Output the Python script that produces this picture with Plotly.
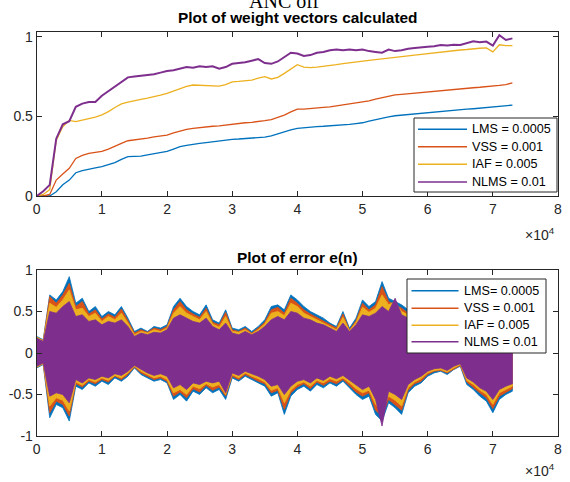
import plotly.graph_objects as go

W, H = 570, 482

# ---------------- data ----------------
samples = list(range(0, 74000, 1000))          # sample index n (0 .. 73000)
names_w = ["LMS = 0.0005", "VSS = 0.001", "IAF = 0.005", "NLMS = 0.01"]
names_e = ["LMS= 0.0005", "VSS = 0.001", "IAF = 0.005", "NLMS = 0.01"]
colors = ["#0072BD", "#D95319", "#EDB120", "#7E2F8E"]
x_tick_vals = [0, 10000, 20000, 30000, 40000, 50000, 60000, 70000, 80000]
x_tick_text = ["0", "1", "2", "3", "4", "5", "6", "7", "8"]

# weight vectors (top)
w_lms = [0.00, 0.00, 0.00, 0.027, 0.07, 0.10, 0.146, 0.16, 0.17, 0.177,
         0.184, 0.197, 0.21, 0.23, 0.247, 0.249, 0.251, 0.258, 0.264, 0.272,
         0.28, 0.295, 0.31, 0.318, 0.326, 0.33, 0.335, 0.341, 0.347, 0.352,
         0.356, 0.358, 0.361, 0.363, 0.366, 0.37, 0.377, 0.39, 0.404, 0.415,
         0.425, 0.43, 0.433, 0.436, 0.438, 0.44, 0.443, 0.447, 0.45, 0.455,
         0.46, 0.47, 0.48, 0.49, 0.497, 0.504, 0.508, 0.512, 0.516, 0.52,
         0.525, 0.528, 0.531, 0.535, 0.538, 0.541, 0.545, 0.548, 0.552, 0.556,
         0.56, 0.563, 0.567, 0.571]
w_vss = [0.00, 0.00, 0.01, 0.10, 0.138, 0.174, 0.236, 0.255, 0.268, 0.274,
         0.28, 0.295, 0.31, 0.33, 0.347, 0.352, 0.355, 0.363, 0.372, 0.378,
         0.383, 0.397, 0.41, 0.418, 0.425, 0.43, 0.435, 0.438, 0.44, 0.446,
         0.452, 0.456, 0.46, 0.463, 0.467, 0.473, 0.48, 0.493, 0.508, 0.528,
         0.546, 0.546, 0.548, 0.552, 0.556, 0.56, 0.566, 0.572, 0.577, 0.582,
         0.587, 0.597, 0.608, 0.617, 0.626, 0.635, 0.638, 0.642, 0.645, 0.65,
         0.655, 0.66, 0.663, 0.666, 0.669, 0.672, 0.676, 0.68, 0.683, 0.686,
         0.69, 0.695, 0.70, 0.71]
w_iaf = [0.00, 0.01, 0.04, 0.35, 0.435, 0.475, 0.467, 0.475, 0.483, 0.495,
         0.51, 0.53, 0.556, 0.578, 0.59, 0.60, 0.607, 0.615, 0.623, 0.633,
         0.644, 0.66, 0.676, 0.688, 0.697, 0.695, 0.69, 0.692, 0.69, 0.70,
         0.717, 0.72, 0.725, 0.728, 0.74, 0.75, 0.735, 0.745, 0.77, 0.80,
         0.825, 0.81, 0.806, 0.81, 0.815, 0.817, 0.825, 0.832, 0.838, 0.843,
         0.848, 0.852, 0.856, 0.86, 0.865, 0.87, 0.875, 0.88, 0.885, 0.89,
         0.895, 0.90, 0.905, 0.91, 0.913, 0.917, 0.92, 0.925, 0.928, 0.93,
         0.905, 0.95, 0.945, 0.945]
w_nlms = [0.00, 0.03, 0.07, 0.36, 0.45, 0.47, 0.56, 0.58, 0.59, 0.59,
          0.63, 0.66, 0.69, 0.72, 0.745, 0.75, 0.755, 0.76, 0.765, 0.775,
          0.785, 0.79, 0.80, 0.81, 0.805, 0.815, 0.81, 0.815, 0.80, 0.81,
          0.83, 0.835, 0.84, 0.85, 0.86, 0.835, 0.83, 0.845, 0.875, 0.90,
          0.895, 0.88, 0.885, 0.90, 0.905, 0.915, 0.92, 0.915, 0.92, 0.915,
          0.92, 0.91, 0.905, 0.90, 0.92, 0.91, 0.915, 0.925, 0.93, 0.935,
          0.938, 0.94, 0.948, 0.945, 0.95, 0.948, 0.96, 0.972, 0.965, 0.97,
          0.945, 1.01, 0.98, 0.99]

# error e(n) (bottom): upper / lower envelopes read per 1000 samples
e_lms_hi = [0.20, 0.16, 0.70, 0.64, 0.74, 0.92, 0.60, 0.66, 0.50, 0.56,
            0.44, 0.50, 0.46, 0.56, 0.42, 0.26, 0.30, 0.26, 0.32, 0.30,
            0.34, 0.56, 0.66, 0.56, 0.50, 0.46, 0.58, 0.40, 0.36, 0.52,
            0.30, 0.28, 0.32, 0.26, 0.32, 0.40, 0.56, 0.58, 0.52, 0.70,
            0.64, 0.56, 0.50, 0.46, 0.42, 0.36, 0.32, 0.50, 0.30, 0.42,
            0.64, 0.56, 0.62, 0.86, 0.66, 0.62, 0.58, 0.52, 0.48, 0.44,
            0.40, 0.36, 0.34, 0.32, 0.30, 0.34, 0.44, 0.50, 0.56, 0.62,
            0.70, 0.58, 0.52, 0.50]
e_lms_lo = [-0.18, -0.14, -0.78, -0.62, -0.66, -0.82, -0.40, -0.44, -0.36, -0.40,
            -0.34, -0.38, -0.30, -0.34, -0.28, -0.18, -0.26, -0.30, -0.34, -0.32,
            -0.36, -0.56, -0.50, -0.58, -0.46, -0.50, -0.42, -0.48, -0.44, -0.56,
            -0.30, -0.34, -0.28, -0.32, -0.36, -0.40, -0.52, -0.48, -0.74, -0.52,
            -0.44, -0.40, -0.46, -0.38, -0.42, -0.36, -0.40, -0.34, -0.42, -0.50,
            -0.56, -0.52, -0.74, -0.82, -0.60, -0.66, -0.74, -0.48, -0.40, -0.36,
            -0.28, -0.24, -0.22, -0.26, -0.20, -0.16, -0.38, -0.44, -0.52, -0.58,
            -0.72, -0.56, -0.50, -0.46]
e_vss_hi = [0.19, 0.15, 0.68, 0.60, 0.70, 0.84, 0.56, 0.62, 0.47, 0.52,
            0.41, 0.47, 0.43, 0.53, 0.39, 0.24, 0.28, 0.25, 0.30, 0.28,
            0.32, 0.52, 0.62, 0.52, 0.47, 0.43, 0.54, 0.37, 0.34, 0.49,
            0.28, 0.26, 0.30, 0.24, 0.30, 0.37, 0.52, 0.55, 0.48, 0.66,
            0.60, 0.52, 0.47, 0.43, 0.39, 0.34, 0.30, 0.47, 0.28, 0.39,
            0.60, 0.52, 0.58, 0.80, 0.62, 0.58, 0.54, 0.48, 0.45, 0.41,
            0.37, 0.34, 0.32, 0.30, 0.28, 0.32, 0.41, 0.47, 0.52, 0.58,
            0.66, 0.54, 0.48, 0.47]
e_vss_lo = [-0.17, -0.13, -0.72, -0.58, -0.62, -0.76, -0.37, -0.41, -0.34, -0.37,
            -0.32, -0.35, -0.28, -0.32, -0.26, -0.17, -0.24, -0.28, -0.32, -0.30,
            -0.34, -0.52, -0.47, -0.54, -0.43, -0.47, -0.39, -0.45, -0.41, -0.52,
            -0.28, -0.32, -0.26, -0.30, -0.34, -0.37, -0.48, -0.45, -0.68, -0.48,
            -0.41, -0.37, -0.43, -0.35, -0.39, -0.34, -0.37, -0.32, -0.39, -0.47,
            -0.52, -0.48, -0.69, -0.76, -0.56, -0.62, -0.69, -0.45, -0.37, -0.34,
            -0.26, -0.22, -0.21, -0.24, -0.19, -0.15, -0.35, -0.41, -0.48, -0.54,
            -0.67, -0.52, -0.47, -0.43]
e_iaf_hi = [0.19, 0.15, 0.60, 0.55, 0.64, 0.76, 0.52, 0.54, 0.44, 0.48,
            0.38, 0.44, 0.40, 0.48, 0.36, 0.22, 0.26, 0.24, 0.28, 0.26,
            0.30, 0.48, 0.56, 0.48, 0.44, 0.40, 0.50, 0.35, 0.31, 0.44,
            0.26, 0.25, 0.28, 0.23, 0.28, 0.35, 0.48, 0.50, 0.45, 0.60,
            0.56, 0.48, 0.44, 0.40, 0.37, 0.32, 0.28, 0.43, 0.27, 0.37,
            0.55, 0.49, 0.54, 0.70, 0.58, 0.62, 0.50, 0.46, 0.42, 0.39,
            0.35, 0.32, 0.30, 0.28, 0.27, 0.30, 0.38, 0.44, 0.49, 0.54,
            0.62, 0.50, 0.45, 0.44]
e_iaf_lo = [-0.17, -0.13, -0.64, -0.54, -0.57, -0.70, -0.35, -0.39, -0.32, -0.35,
            -0.30, -0.33, -0.27, -0.30, -0.24, -0.16, -0.22, -0.26, -0.30, -0.28,
            -0.32, -0.48, -0.44, -0.50, -0.40, -0.43, -0.37, -0.41, -0.38, -0.50,
            -0.26, -0.30, -0.24, -0.28, -0.31, -0.35, -0.45, -0.42, -0.60, -0.45,
            -0.38, -0.35, -0.40, -0.33, -0.36, -0.31, -0.34, -0.30, -0.36, -0.43,
            -0.48, -0.45, -0.62, -0.70, -0.52, -0.57, -0.64, -0.42, -0.35, -0.31,
            -0.24, -0.21, -0.20, -0.23, -0.18, -0.14, -0.33, -0.38, -0.45, -0.50,
            -0.62, -0.48, -0.44, -0.40]
e_nlms_hi = [0.18, 0.14, 0.50, 0.48, 0.56, 0.62, 0.44, 0.46, 0.38, 0.40,
             0.34, 0.38, 0.36, 0.40, 0.32, 0.20, 0.24, 0.22, 0.25, 0.24,
             0.28, 0.42, 0.46, 0.42, 0.38, 0.36, 0.42, 0.32, 0.28, 0.36,
             0.24, 0.22, 0.26, 0.22, 0.26, 0.32, 0.40, 0.44, 0.40, 0.50,
             0.48, 0.42, 0.40, 0.36, 0.34, 0.30, 0.26, 0.36, 0.26, 0.34,
             0.46, 0.44, 0.48, 0.56, 0.50, 0.66, 0.46, 0.42, 0.38, 0.36,
             0.32, 0.30, 0.28, 0.26, 0.24, 0.26, 0.34, 0.40, 0.44, 0.48,
             0.52, 0.46, 0.42, 0.40]
e_nlms_lo = [-0.16, -0.12, -0.52, -0.48, -0.50, -0.60, -0.32, -0.36, -0.30, -0.32,
             -0.28, -0.30, -0.25, -0.27, -0.22, -0.15, -0.20, -0.24, -0.27, -0.25,
             -0.28, -0.42, -0.38, -0.44, -0.36, -0.38, -0.34, -0.36, -0.34, -0.48,
             -0.24, -0.27, -0.22, -0.25, -0.28, -0.32, -0.40, -0.38, -0.50, -0.40,
             -0.34, -0.32, -0.36, -0.30, -0.33, -0.28, -0.31, -0.27, -0.33, -0.38,
             -0.44, -0.40, -0.56, -0.88, -0.46, -0.50, -0.56, -0.38, -0.32, -0.28,
             -0.22, -0.19, -0.18, -0.21, -0.16, -0.13, -0.30, -0.35, -0.42, -0.46,
             -0.56, -0.44, -0.40, -0.37]

weights = [w_lms, w_vss, w_iaf, w_nlms]
err_hi = [e_lms_hi, e_vss_hi, e_iaf_hi, e_nlms_hi]
err_lo = [e_lms_lo, e_vss_lo, e_iaf_lo, e_nlms_lo]

# ---------------- styling helpers ----------------
AX = "#262626"
FONT = "Liberation Sans, Arial, Helvetica, sans-serif"


def px(p):
    return p / W


def py(p):
    return 1 - p / H


X0, X1 = 36.7, 558.0
TOP_Y0, TOP_Y1 = 32.0, 196.0
BOT_Y0, BOT_Y1 = 270.0, 436.0

fig = go.Figure()

widths = [1.3, 1.3, 1.3, 2.0]
for name, col, ys, lw in zip(names_w, colors, weights, widths):
    fig.add_trace(go.Scatter(x=samples, y=ys, mode="lines", name=name,
                             line=dict(color=col, width=lw),
                             xaxis="x", yaxis="y", showlegend=False,
                             hoverinfo="skip"))

for name, col, hi, lo in zip(names_e, colors, err_hi, err_lo):
    fig.add_trace(go.Scatter(x=samples + samples[::-1], y=hi + lo[::-1],
                             mode="lines", fill="toself", fillcolor=col,
                             line=dict(color=col, width=0.8), name=name,
                             xaxis="x2", yaxis="y2", showlegend=False,
                             hoverinfo="skip"))

axis_common = dict(showline=True, linecolor=AX, linewidth=1, mirror="ticks",
                   ticks="inside", ticklen=5, tickcolor=AX, tickwidth=1,
                   showgrid=False, zeroline=False, automargin=False,
                   tickfont=dict(family=FONT, size=14, color=AX))

fig.update_layout(
    width=W, height=H,
    margin=dict(l=0, r=0, t=0, b=0, pad=0, autoexpand=False),
    paper_bgcolor="white", plot_bgcolor="white", showlegend=False,
    xaxis=dict(domain=[px(X0), px(X1)], anchor="y", range=[0, 80000],
               tickvals=x_tick_vals, ticktext=x_tick_text, **axis_common),
    yaxis=dict(domain=[py(TOP_Y1), py(TOP_Y0)], anchor="x", range=[0, 1.03],
               tickvals=[0, 0.5, 1], ticktext=["0", "0.5", "1"], **axis_common),
    xaxis2=dict(domain=[px(X0), px(X1)], anchor="y2", range=[0, 80000],
                tickvals=x_tick_vals, ticktext=x_tick_text, **axis_common),
    yaxis2=dict(domain=[py(BOT_Y1), py(BOT_Y0)], anchor="x2", range=[-1, 1],
                tickvals=[-1, -0.5, 0, 0.5, 1],
                ticktext=["-1", "-0.5", "0", "0.5", "1"], **axis_common),
)

annotations = []
shapes = []


def text(x, y, s, size, xanchor="center", bold=False, family=FONT, color=AX):
    annotations.append(dict(x=px(x), y=py(y), xref="paper", yref="paper",
                            text=("<b>%s</b>" % s) if bold else s,
                            showarrow=False, xanchor=xanchor, yanchor="middle",
                            font=dict(family=family, size=size, color=color)))


# titles
text(284, 1.5, "ANC off", 20, family="Liberation Serif, Times New Roman, serif",
     color="black")
text((X0 + X1) / 2, 17.8, "Plot of weight vectors calculated", 15.4, bold=True,
     color="black")
text((X0 + X1) / 2, 257.8, "Plot of error e(n)", 15.4, bold=True, color="black")

# exponent labels
text(557, 234, "\u00d710<sup>4</sup>", 14, xanchor="right")
text(557, 470, "\u00d710<sup>4</sup>", 14, xanchor="right")


def legend(box, line_x, text_x, ys, names):
    x0, y0, x1, y1 = box
    shapes.append(dict(type="rect", xref="paper", yref="paper",
                       x0=px(x0), x1=px(x1), y0=py(y1), y1=py(y0),
                       fillcolor="white", line=dict(color=AX, width=1),
                       layer="above"))
    for yy, nm, col in zip(ys, names, colors):
        shapes.append(dict(type="line", xref="paper", yref="paper",
                           x0=px(line_x[0]), x1=px(line_x[1]),
                           y0=py(yy), y1=py(yy),
                           line=dict(color=col, width=1.5), layer="above"))
        text(text_x, yy, nm, 12.6, xanchor="left", color="black")


legend((414, 118, 557, 192), (418, 467), 469.5, [129.3, 146.7, 164.2, 182.0],
       names_w)
legend((407, 279, 546, 353), (411.5, 458.5), 461.5, [290.7, 308.3, 325.2, 341.8],
       names_e)

fig.update_layout(annotations=annotations, shapes=shapes)

fig.write_html("out.html")
